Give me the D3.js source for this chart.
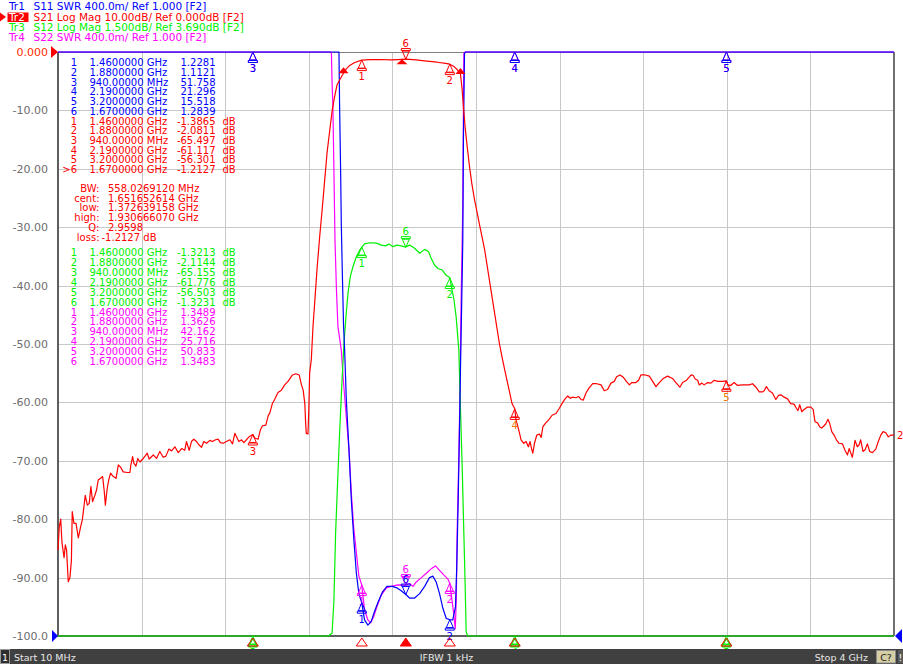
<!DOCTYPE html>
<html><head><meta charset="utf-8">
<script src="https://cdn.jsdelivr.net/npm/d3@7"></script>
<style>
html,body{margin:0;padding:0;background:#fff;overflow:hidden;}
svg{display:block;font-family:"DejaVu Sans",sans-serif;}
</style></head><body>
<svg id="c" width="903" height="664"></svg>
<script>
// ---------------- DATA ----------------
const headerLines = [
  {tr:"Tr1", rest:"S11 SWR 400.0m/ Ref 1.000 [F2]", color:"#0000ff"},
  {tr:"Tr2", rest:"S21 Log Mag 10.00dB/ Ref 0.000dB [F2]", color:"#ff0000"},
  {tr:"Tr3", rest:"S12 Log Mag 1.500dB/ Ref 3.690dB [F2]", color:"#00f000"},
  {tr:"Tr4", rest:"S22 SWR 400.0m/ Ref 1.000 [F2]", color:"#ff00ff"}
];
const dbTicks = [0,-10,-20,-30,-40,-50,-60,-70,-80,-90,-100];
const dbTickLabels = ["0.000","-10.00","-20.00","-30.00","-40.00","-50.00","-60.00","-70.00","-80.00","-90.00","-100.0"];
const freqGrid = [0.409,0.808,1.207,1.606,2.005,2.404,2.803,3.202,3.601];
const markerFreqs = [1.46,1.88,0.94,2.19,3.2,1.67];
const markerFreqLabels = ["1.4600000 GHz","1.8800000 GHz","940.00000 MHz","2.1900000 GHz","3.2000000 GHz","1.6700000 GHz"];
const s11Markers = [1.2281,1.1121,51.758,21.296,15.518,1.2839];
const s21Markers = [-1.3865,-2.0811,-65.497,-61.117,-56.301,-1.2127];
const s12Markers = [-1.3213,-2.1144,-65.155,-61.776,-56.503,-1.3231];
const s22Markers = [1.3489,1.3626,42.162,25.716,50.833,1.3483];
const bwLabels = ["BW:","cent:","low:","high:","Q:","loss:"];
const bwValues = ["558.0269120 MHz","1.651652614 GHz","1.372639158 GHz","1.930666070 GHz","2.9598","-1.2127 dB"];
const bwFreqs = {low:1.372639, cent:1.651653, high:1.930666};

// S21 log mag (dB) [GHz, dB]
const s21 = [
[0.010,-85.3],[0.016,-81.3],[0.023,-80.0],[0.029,-84.0],[0.039,-86.6],[0.045,-84.4],[0.051,-85.3],[0.059,-90.7],[0.067,-90.0],[0.074,-87.0],
[0.078,-78.7],[0.086,-80.7],[0.096,-80.7],[0.107,-83.2],[0.118,-81.3],[0.126,-80.1],[0.131,-78.7],[0.140,-75.9],[0.150,-77.6],[0.159,-77.3],
[0.167,-74.4],[0.175,-77.0],[0.186,-75.9],[0.194,-75.0],[0.202,-73.3],[0.213,-73.0],[0.223,-72.7],[0.231,-75.3],[0.236,-77.6],[0.245,-74.7],
[0.252,-73.3],[0.261,-72.1],[0.274,-72.7],[0.287,-73.0],[0.298,-70.7],[0.309,-71.1],[0.321,-71.9],[0.341,-72.0],[0.353,-72.0],[0.358,-70.7],
[0.366,-69.3],[0.372,-70.4],[0.382,-70.9],[0.391,-69.6],[0.401,-70.2],[0.417,-69.6],[0.436,-68.7],[0.445,-69.7],[0.465,-69.0],[0.480,-69.6],
[0.496,-68.4],[0.512,-69.4],[0.525,-69.2],[0.539,-68.0],[0.552,-68.3],[0.568,-67.6],[0.584,-68.6],[0.600,-67.9],[0.615,-68.2],[0.623,-66.7],
[0.636,-68.2],[0.647,-66.7],[0.658,-66.3],[0.671,-66.7],[0.684,-67.3],[0.695,-67.7],[0.706,-66.7],[0.719,-67.0],[0.735,-66.5],[0.747,-66.7],
[0.762,-66.4],[0.774,-66.3],[0.785,-66.9],[0.798,-67.0],[0.814,-66.7],[0.830,-66.4],[0.843,-67.1],[0.854,-65.3],[0.862,-65.9],[0.873,-66.7],
[0.886,-66.4],[0.897,-66.9],[0.909,-66.4],[0.922,-65.9],[0.940,-65.5],[0.949,-66.1],[0.965,-66.3],[0.976,-64.7],[0.986,-64.0],[1.002,-63.9],
[1.013,-62.3],[1.021,-61.8],[1.033,-60.2],[1.044,-59.5],[1.060,-58.3],[1.076,-57.9],[1.092,-57.0],[1.108,-56.4],[1.129,-55.3],[1.145,-55.1],
[1.161,-55.3],[1.172,-57.0],[1.180,-57.9],[1.188,-60.2],[1.192,-63.6],[1.195,-65.3],[1.203,-65.4],[1.207,-61.3],[1.211,-55.0],[1.219,-52.7],
[1.227,-47.0],[1.235,-43.0],[1.246,-37.3],[1.259,-31.6],[1.272,-26.5],[1.283,-21.9],[1.294,-17.3],[1.307,-13.4],[1.319,-9.9],[1.330,-7.7],
[1.342,-5.6],[1.354,-4.8],[1.373,-3.6],[1.386,-2.9],[1.402,-2.3],[1.426,-1.8],[1.460,-1.39],[1.500,-1.30],[1.550,-1.28],[1.600,-1.36],
[1.630,-1.30],[1.670,-1.21],[1.720,-1.35],[1.770,-1.55],[1.820,-1.75],[1.860,-1.95],[1.880,-2.08],[1.900,-2.5],[1.915,-3.0],[1.931,-3.8],
[1.939,-6.5],[1.945,-9.4],[1.953,-12.8],[1.963,-16.2],[1.974,-19.6],[1.985,-22.5],[1.998,-25.3],[2.011,-27.6],[2.022,-29.6],[2.046,-33.8],
[2.084,-42.5],[2.117,-50.0],[2.133,-52.9],[2.149,-55.6],[2.165,-58.2],[2.177,-60.2],[2.190,-61.1],[2.196,-63.0],[2.209,-64.7],[2.220,-66.4],
[2.233,-67.0],[2.244,-66.7],[2.255,-67.6],[2.263,-66.7],[2.270,-67.9],[2.276,-68.7],[2.284,-67.0],[2.295,-65.6],[2.308,-65.4],[2.316,-66.0],
[2.324,-64.2],[2.336,-63.6],[2.352,-63.0],[2.368,-62.2],[2.387,-61.9],[2.403,-61.0],[2.419,-60.0],[2.432,-59.3],[2.443,-58.9],[2.455,-59.3],
[2.467,-59.1],[2.482,-59.2],[2.495,-59.0],[2.506,-59.5],[2.517,-59.6],[2.530,-58.4],[2.543,-57.6],[2.562,-56.8],[2.581,-56.8],[2.602,-57.0],
[2.617,-58.0],[2.633,-57.8],[2.649,-56.7],[2.665,-56.4],[2.676,-55.6],[2.692,-55.3],[2.708,-55.7],[2.721,-56.3],[2.737,-57.0],[2.749,-56.6],
[2.768,-56.6],[2.781,-56.2],[2.792,-55.3],[2.813,-55.3],[2.832,-55.5],[2.848,-56.4],[2.864,-57.3],[2.880,-56.6],[2.899,-55.9],[2.919,-55.5],
[2.943,-55.9],[2.959,-56.6],[2.978,-57.4],[2.991,-56.6],[3.010,-56.2],[3.032,-55.3],[3.042,-55.4],[3.051,-56.0],[3.063,-56.2],[3.070,-57.0],
[3.083,-56.7],[3.094,-57.0],[3.110,-56.6],[3.126,-56.7],[3.142,-56.2],[3.158,-56.4],[3.182,-56.4],[3.200,-56.3],[3.206,-57.0],[3.221,-57.1],
[3.237,-56.6],[3.253,-57.1],[3.277,-57.0],[3.293,-57.0],[3.309,-57.0],[3.325,-56.8],[3.341,-57.4],[3.357,-58.2],[3.372,-58.2],[3.380,-58.0],
[3.391,-57.3],[3.404,-58.0],[3.420,-58.4],[3.436,-59.5],[3.449,-58.8],[3.460,-58.7],[3.476,-59.1],[3.492,-59.4],[3.507,-60.2],[3.523,-60.3],
[3.534,-61.0],[3.542,-61.4],[3.550,-60.4],[3.560,-61.6],[3.571,-61.2],[3.587,-60.8],[3.603,-60.8],[3.614,-61.2],[3.623,-63.3],[3.635,-63.5],
[3.646,-64.2],[3.655,-64.4],[3.666,-64.0],[3.674,-63.7],[3.685,-62.9],[3.693,-63.6],[3.703,-65.0],[3.714,-65.6],[3.725,-66.4],[3.738,-67.0],
[3.754,-67.1],[3.766,-68.2],[3.778,-69.0],[3.786,-67.9],[3.793,-68.6],[3.801,-69.4],[3.809,-67.7],[3.814,-66.5],[3.825,-67.6],[3.833,-67.3],
[3.841,-66.4],[3.852,-68.4],[3.862,-68.1],[3.873,-67.1],[3.884,-68.4],[3.897,-68.6],[3.913,-68.0],[3.925,-66.7],[3.937,-65.6],[3.948,-65.0],
[3.961,-65.2],[3.973,-65.9],[3.984,-65.6],[4.000,-65.6]
];

// S12 log mag (dB), 1.5 dB/div
const s12 = [
[0.010,-82],[0.500,-69],[0.940,-65.2],[1.150,-55],[1.220,-50],[1.270,-28],[1.300,-16],[1.318,-11.24],[1.327,-10.39],[1.335,-8.66],
[1.343,-7.56],[1.354,-6.10],[1.365,-4.81],[1.375,-3.78],[1.386,-3.0],[1.394,-2.51],[1.405,-2.08],[1.418,-1.82],[1.434,-1.57],[1.450,-1.40],
[1.460,-1.32],[1.473,-1.24],[1.497,-1.21],[1.529,-1.22],[1.553,-1.27],[1.574,-1.29],[1.590,-1.24],[1.609,-1.31],[1.628,-1.27],[1.648,-1.29],
[1.670,-1.32],[1.688,-1.27],[1.712,-1.35],[1.736,-1.48],[1.760,-1.38],[1.779,-1.44],[1.791,-1.61],[1.807,-1.78],[1.823,-1.87],[1.844,-1.91],
[1.860,-2.03],[1.880,-2.11],[1.890,-2.40],[1.900,-2.68],[1.910,-3.1],[1.923,-3.96],[1.931,-5.5],[1.939,-6.96],[1.947,-8.67],[1.953,-9.95],
[1.958,-11.2],[1.965,-13],[2.000,-25],[2.190,-61.8],[3.200,-56.5],[4.000,-66]
];

// S11 SWR
const s11 = [
[0.010,80],[0.500,60],[0.940,51.758],[1.200,30],[1.300,8],[1.345,5.2],[1.351,5.0],[1.354,4.63],[1.359,4.17],[1.362,3.83],
[1.367,3.49],[1.373,3.12],[1.378,2.96],[1.386,2.62],[1.399,2.27],[1.410,1.93],[1.422,1.66],[1.434,1.43],[1.446,1.29],[1.460,1.2281],
[1.473,1.11],[1.489,1.075],[1.505,1.10],[1.521,1.17],[1.537,1.23],[1.558,1.30],[1.580,1.34],[1.606,1.34],[1.627,1.33],[1.648,1.31],
[1.670,1.2839],[1.688,1.26],[1.712,1.26],[1.736,1.29],[1.760,1.34],[1.783,1.40],[1.799,1.41],[1.815,1.37],[1.831,1.29],[1.847,1.19],
[1.863,1.12],[1.880,1.1121],[1.894,1.11],[1.907,1.20],[1.913,1.47],[1.920,1.93],[1.926,2.39],[1.931,2.84],[1.937,3.30],[1.942,3.71],
[1.945,4.40],[1.950,4.99],[1.956,5.6],[2.000,9],[2.190,21.296],[3.200,15.518],[4.000,20]
];

// S22 SWR
const s22 = [
[0.010,70],[0.940,42.162],[1.200,25],[1.300,7],[1.312,5.3],[1.315,4.99],[1.318,4.79],[1.322,4.63],[1.327,4.17],[1.332,3.71],
[1.339,3.37],[1.346,3.12],[1.350,3.08],[1.362,2.96],[1.373,2.73],[1.386,2.50],[1.399,2.27],[1.410,1.98],[1.421,1.75],[1.434,1.57],
[1.446,1.41],[1.460,1.3489],[1.473,1.18],[1.489,1.11],[1.502,1.09],[1.516,1.13],[1.532,1.20],[1.553,1.28],[1.577,1.33],[1.601,1.34],
[1.632,1.35],[1.670,1.3483],[1.688,1.36],[1.704,1.34],[1.720,1.37],[1.744,1.40],[1.768,1.43],[1.791,1.46],[1.812,1.48],[1.831,1.45],
[1.850,1.42],[1.871,1.39],[1.880,1.36],[1.890,1.25],[1.898,1.16],[1.906,1.05],[1.911,1.25],[1.915,1.71],[1.922,2.16],[1.928,2.62],
[1.934,3.30],[1.942,3.94],[1.945,4.63],[1.947,4.99],[1.952,5.6],[2.000,10],[2.190,25.716],[3.200,50.833],[4.000,40]
];

// ---------------- CHART ----------------
const W=903,H=664, L=58, R=894, T=52, B=636;
const C = {blue:"#0000ff", red:"#ff0000", green:"#00f000", mag:"#ff00ff", grid:"#c8c8c8", axis:"#5e5e5e", tick:"#6e6e6e"};
const x = d3.scaleLinear().domain([0.01,4.0]).range([L,R]);
const yS21 = d3.scaleLinear().domain([-100,0]).range([B,T]).clamp(true);
const yS12 = d3.scaleLinear().domain([3.69-15,3.69]).range([B,T]).clamp(true);
const ySwr = d3.scaleLinear().domain([1,5]).range([B,T]).clamp(true);

const svg = d3.select("#c");
svg.append("rect").attr("width",W).attr("height",H).attr("fill","#fff");

function txt(g,xx,yy,s,color,anchor,size){
  return g.append("text").attr("x",xx).attr("y",yy).attr("fill",color)
    .attr("text-anchor",anchor||"start").attr("font-size",(size||10)+"px").text(s);
}

// grid
const gy = svg.append("g").attr("transform",`translate(${L},0)`)
  .call(d3.axisLeft(yS21).tickValues(dbTicks.slice(1,-1)).tickSize(-(R-L)).tickFormat(""));
gy.select(".domain").remove();
gy.selectAll("line").attr("stroke",C.grid).attr("shape-rendering","crispEdges");
const gx = svg.append("g").attr("transform",`translate(0,${B})`)
  .call(d3.axisBottom(x).tickValues(freqGrid).tickSize(-(B-T)).tickFormat(""));
gx.select(".domain").remove();
gx.selectAll("line").attr("stroke",C.grid).attr("shape-rendering","crispEdges");

// y tick labels
const yl = svg.append("g").attr("transform",`translate(${L},0)`)
  .call(d3.axisLeft(yS21).tickValues(dbTicks).tickSize(0).tickPadding(10)
  .tickFormat((d,i)=>dbTickLabels[i]));
yl.select(".domain").remove();
yl.selectAll("text").attr("font-size","11px").attr("font-family","DejaVu Sans")
  .attr("fill",(d)=>d===0?"#ff2a00":C.tick);

// frame
const fr = svg.append("g").attr("shape-rendering","crispEdges");
fr.append("line").attr("x1",L).attr("x2",R).attr("y1",T).attr("y2",T).attr("stroke","#808080");
fr.append("line").attr("x1",R).attr("x2",R).attr("y1",T).attr("y2",B).attr("stroke","#707070").attr("stroke-width",1.5);
fr.append("line").attr("x1",L).attr("x2",R).attr("y1",B).attr("y2",B).attr("stroke",C.axis).attr("stroke-width",2);
fr.append("line").attr("x1",L).attr("x2",L).attr("y1",T).attr("y2",B+1).attr("stroke",C.axis).attr("stroke-width",2);

// reference position arrows
svg.append("path").attr("d",`M${L-7},${T-6} L${L},${T} L${L-7},${T+6} Z`).attr("fill","#ff0000");
svg.append("path").attr("d",`M${L-6},${B-6} L${L},${B} L${L-6},${B+6} Z`).attr("fill","#0000ff");
svg.append("path").attr("d",`M${R+8},${B-7} L${R+1},${B} L${R+8},${B+7} Z`).attr("fill","#0000ff");

// traces
function trace(data, yscale, color){
  const line = d3.line().x(d=>x(d[0])).y(d=>yscale(d[1]));
  svg.append("path").datum(data).attr("d",line).attr("fill","none")
    .attr("stroke",color).attr("stroke-width",1.2).attr("stroke-linejoin","round");
}
trace(s22, ySwr, C.mag);
trace(s12, yS12, C.green);
trace(s11, ySwr, C.blue);
trace(s21, yS21, C.red);

// marker glyphs
const mg = svg.append("g");
function markerUp(px,py,color,label,lc){
  mg.append("path").attr("d",`M${px},${py} L${px-3.5},${py+8} L${px+3.5},${py+8} Z M${px-4.5},${py+8.5} H${px+4.5} V${py+10.5} H${px-4.5} Z`)
    .attr("fill","none").attr("stroke",color).attr("stroke-width",1);
  txt(mg,px,py+20,label,lc||color,"middle",10);
}
function markerDown(px,py,color,label){
  mg.append("path").attr("d",`M${px},${py} L${px-3.5},${py-8} L${px+3.5},${py-8} Z M${px-4.5},${py-8.5} H${px+4.5} V${py-10.5} H${px-4.5} Z`)
    .attr("fill","none").attr("stroke",color).attr("stroke-width",1);
  txt(mg,px,py-12,label,color,"middle",10);
}
function markers(vals, yscale, color, labelColors){
  vals.forEach((v,i)=>{
    const px = x(markerFreqs[i]), py = yscale(v);
    if(i===5) markerDown(px,py,color,String(i+1));
    else markerUp(px,py,color,String(i+1), labelColors ? labelColors[i] : color);
  });
}
markers(s22Markers, ySwr, C.mag);
markers(s12Markers, yS12, C.green);
markers(s11Markers, ySwr, C.blue);
markers(s21Markers, yS21, C.red, [C.red,C.red,C.red,"#f07800","#f07800",C.red]);

// bandwidth search markers (filled) on S21
function interp(data,f){
  for(let i=1;i<data.length;i++){
    if(data[i][0]>=f){const a=data[i-1],b=data[i];return a[1]+(b[1]-a[1])*(f-a[0])/(b[0]-a[0]);}
  }
  return data[data.length-1][1];
}
[["low",-1],["high",-1],["cent",1]].forEach(([k,dir])=>{
  const px=x(bwFreqs[k]), py=yS21(interp(s21,bwFreqs[k]));
  if(dir<0) svg.append("path").attr("d",`M${px},${py-6} L${px-5},${py} L${px+5},${py} Z`).attr("fill",C.red);
  else svg.append("path").attr("d",`M${px},${py} L${px-5.5},${py+5} L${px+5.5},${py+5} Z`).attr("fill",C.red);
});

// stimulus indicators under the axis
markerFreqs.forEach((f,i)=>{
  const px=x(f);
  if(s12Markers[i] < yS12.domain()[0]){
    svg.append("path").attr("d",`M${px},${B+3} L${px-4},${B+10} L${px+4},${B+10} Z M${px-4.5},${B+11} H${px+4.5}`)
      .attr("fill","none").attr("stroke",C.green);
  }
  svg.append("path").attr("d",`M${px},${B+2} L${px-5.5},${B+10} L${px+5.5},${B+10} Z`)
    .attr("fill",i===5?C.red:"none").attr("stroke",C.red);
});

// active trace end label
txt(svg,R+3,yS21(s21[s21.length-1][1])+4,"2",C.red,"start",10);

// header
headerLines.forEach((h,i)=>{
  const yy = 10.3 + 10.25*i;
  if(i===1){
    svg.append("path").attr("d","M0,12.5 L6,17 L0,21.5 Z").attr("fill","#ff0000");
    svg.append("rect").attr("x",7.5).attr("y",12.5).attr("width",21).attr("height",9.5).attr("fill","#ff0000");
    txt(svg,9,yy,h.tr,"#ffffff","start",10.5);
  } else txt(svg,9,yy,h.tr,h.color,"start",10.5);
  txt(svg,33.5,yy,h.rest,h.color,"start",10.5);
});

// marker tables
const tg = svg.append("g");
function tableBlock(y0, step, vals, color, unit, active){
  vals.forEach((v,i)=>{
    const yy = y0 + step*i;
    txt(tg,77,yy,(active && i===5 ? ">" : "") + (i+1),color,"end");
    txt(tg,89.5,yy,markerFreqLabels[i],color,"start");
    txt(tg,215.5,yy,v.toPrecision(5),color,"end");
    if(unit) txt(tg,222.5,yy,unit,color,"start");
  });
}
tableBlock(66.2, 9.72, s11Markers, C.blue, "", false);
tableBlock(66.2+9.72*6, 9.72, s21Markers, C.red, "dB", true);
bwLabels.forEach((lab,i)=>{
  const yy = 191.8 + 9.75*i;
  txt(tg,99.5,yy,lab,C.red,"end");
  txt(tg,i===5?101.5:108,yy,bwValues[i],C.red,"start");
});
tableBlock(255.8, 9.95, s12Markers, C.green, "dB", false);
tableBlock(255.8+9.95*6, 9.95, s22Markers, C.mag, "", false);

// status bar
const sb = svg.append("g");
sb.append("rect").attr("x",0).attr("y",649).attr("width",W).attr("height",15).attr("fill","#404040");
sb.append("rect").attr("x",0.5).attr("y",649.5).attr("width",9).attr("height",14).attr("fill","#2e2e2e").attr("stroke","#9a9a9a");
txt(sb,5,660.5,"1","#ffffff","middle",9.5);
txt(sb,14,660.5,"Start 10 MHz","#e8e8e8","start",9.5);
txt(sb,446.5,660.5,"IFBW 1 kHz","#e8e8e8","middle",9.5);
txt(sb,868,660.5,"Stop 4 GHz","#e8e8e8","end",9.5);
sb.append("rect").attr("x",876.5).attr("y",650.5).attr("width",19).attr("height",12.5).attr("fill","#d6cfa6").attr("stroke","#8a8a8a");
txt(sb,886,660.5,"C?","#202020","middle",9.5);
sb.append("rect").attr("x",898).attr("y",650).attr("width",5).attr("height",13).attr("fill","#5a5a5a");
txt(sb,900.5,660.5,"!","#ffffff","middle",9.5);
</script></body></html>
